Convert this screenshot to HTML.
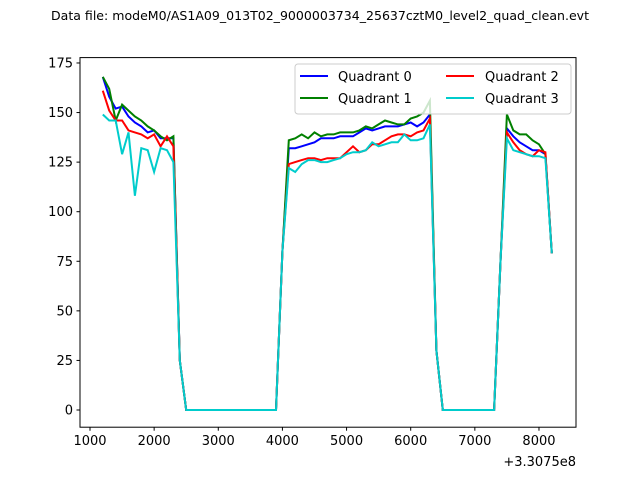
<!DOCTYPE html><html><head><style>body{margin:0;background:#fff}svg text{font-family:"DejaVu Sans","Liberation Sans",sans-serif}</style></head><body>
<svg id="s" width="640" height="480" xmlns="http://www.w3.org/2000/svg">
<rect width="640" height="480" fill="#fff"/>
<text x="51" y="20" font-size="12.5" textLength="538" lengthAdjust="spacingAndGlyphs">Data file: modeM0/AS1A09_013T02_9000003734_25637cztM0_level2_quad_clean.evt</text>
<g id="g"></g>
<rect x="80" y="57.6" width="496" height="369.6" fill="none" stroke="#000" stroke-width="1"/>
<g font-size="13" fill="#000" id="ax"></g>
<text x="576" y="466" font-size="13" text-anchor="end">+3.3075e8</text>
<rect x="295" y="64" width="276" height="50" rx="3" fill="#fff" fill-opacity="0.8" stroke="#ccc"/>
<g font-size="13">
<line x1="300" y1="76" x2="328" y2="76" stroke="#0000ff" stroke-width="2"/><text x="338" y="81">Quadrant 0</text>
<line x1="300" y1="98" x2="328" y2="98" stroke="#008000" stroke-width="2"/><text x="338" y="103">Quadrant 1</text>
<line x1="446" y1="76" x2="474" y2="76" stroke="#ff0000" stroke-width="2"/><text x="485" y="81">Quadrant 2</text>
<line x1="446" y1="98" x2="474" y2="98" stroke="#00cccc" stroke-width="2"/><text x="485" y="103">Quadrant 3</text>
</g>
</svg>
<script>
var X=function(x){return 90+(x-1000)*0.06414},Y=function(y){return 410-y*1.983};
var s1={0:[168,158,152,153,148,145,143,140,141,137,137,137],1:[168,162,146,154,151,148,146,143,141,138,136,138],2:[161,151,146,146,141,140,139,137,139,133,138,133],3:[149,146,146,129,140,108,132,131,120,132,131,125]};
var s2={0:[132,132,133,134,135,137,137,137,138,138,138,140,142,141,142,143,143,143,144,145,143,145,149],1:[136,137,139,137,140,138,139,139,140,140,140,141,143,142,144,146,145,144,144,147,148,150,156],2:[124,125,126,127,127,126,127,127,127,130,133,130,131,134,134,136,138,139,139,138,140,141,147],3:[122,120,124,126,126,125,125,126,127,129,130,130,131,135,133,134,135,135,139,136,136,137,144]};
var s3={0:[142,138,135,133,131,131,129],1:[149,141,139,139,136,134,129],2:[140,135,131,129,128,131,130],3:[137,131,130,129,128,128,127]};
var cols=['#0000ff','#008000','#ff0000','#00cccc'],h='';
for(var q=0;q<4;q++){var p=[],x=1200;s1[q].forEach(function(v){p.push([x,v]);x+=100});
p.push([2400,25]);for(x=2500;x<=3900;x+=100)p.push([x,0]);p.push([4000,80]);x=4100;
s2[q].forEach(function(v){p.push([x,v]);x+=100});p.push([6400,30]);for(x=6500;x<=7300;x+=100)p.push([x,0]);p.push([7400,75]);x=7500;
s3[q].forEach(function(v){p.push([x,v]);x+=100});p.push([8200,79]);
h+='<polyline fill="none" stroke-width="2" stroke="'+cols[q]+'" points="'+p.map(function(a){return X(a[0]).toFixed(1)+','+Y(a[1]).toFixed(1)}).join(' ')+'"/>';}
document.getElementById('g').innerHTML=h;
var a='';for(var t=1000;t<=8000;t+=1000){var px=X(t);a+='<line x1="'+px+'" y1="427.2" x2="'+px+'" y2="430.7" stroke="#000"/><text x="'+px+'" y="445" text-anchor="middle">'+t+'</text>';}
for(var v=0;v<=175;v+=25){var py=Y(v);a+='<line x1="76.5" y1="'+py+'" x2="80" y2="'+py+'" stroke="#000"/><text x="73" y="'+(py+4.5)+'" text-anchor="end">'+v+'</text>';}
document.getElementById('ax').innerHTML=a;
</script></body></html>
